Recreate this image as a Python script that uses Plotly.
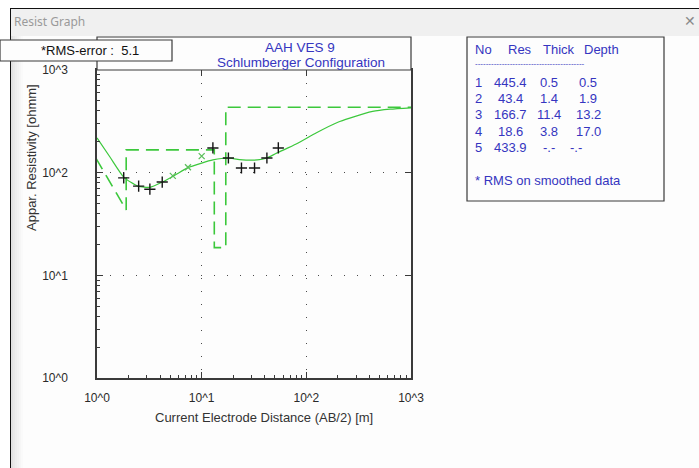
import plotly.graph_objects as go

# ---- inverted layer model -------------------------------------------------
layer_no = [1, 2, 3, 4, 5]
layer_res = [445.4, 43.4, 166.7, 18.6, 433.9]
layer_thick = [0.5, 1.4, 11.4, 3.8, None]
layer_depth = [0.5, 1.9, 13.2, 17.0, None]

# ---- field soundings: AB/2 [m] and apparent resistivity [ohmm] -------------
field_ab2 = [1.8, 2.5, 3.2, 4.2, 12.8, 18.0, 24.0, 32.0, 42.0, 54.0]
field_rho = [89, 74, 69, 81, 174, 139, 111, 111, 139, 174]

# smoothed soundings
smooth_ab2 = [5.3, 7.4, 10.0]
smooth_rho = [93, 113, 145]

# ---- calculated model response ------------------------------------------
curve_ab2 = [1.0, 1.33, 1.81, 2.46, 3.2, 4.2, 5.5, 7.4, 10.0, 12.8, 17.8,
             23.0, 34.0, 42.0, 52.0, 80.0, 125.0, 200.0, 260.0, 430.0,
             630.0, 1000.0]
curve_rho = [218, 142, 90, 74, 72, 81, 94, 112, 124, 133, 139,
             134, 133, 139, 155, 190, 245, 310, 340, 395,
             415, 428]

rms_error = 5.1
sounding_name = "AAH VES 9"
configuration = "Schlumberger Configuration"
x_title = "Current Electrode Distance (AB/2) [m]"
y_title = "Appar. Resistivity [ohmm]"
decades = [1, 10, 100, 1000]
decade_labels = ["10^0", "10^1", "10^2", "10^3"]

# ---- window geometry (pixels) -------------------------------------------
W, H = 699, 468
PL, PR, PT, PB = 97, 411, 70, 378

GREEN = "#3cc83c"
BLUE = "#3535c0"
AXIS = "#3a3a3a"
FONT = "Liberation Sans, Arial, sans-serif"


def fx(x):
    return (x - PL) / (PR - PL)


def fy(y):
    return (PB - y) / (PB - PT)


# step outline of the layer model
x_end = 10 ** 3
model_x = [layer_depth[0], layer_depth[1]]
model_y = [layer_res[0], layer_res[1]]
for i in range(2, len(layer_res)):
    right = layer_depth[i] if layer_depth[i] is not None else x_end
    model_x += [layer_depth[i - 1], right]
    model_y += [layer_res[i], layer_res[i]]

fig = go.Figure()

fig.add_trace(go.Scatter(
    x=model_x, y=model_y, mode="lines",
    line=dict(color=GREEN, width=1.6, dash="13px,7px"),
    hoverinfo="skip"))

fig.add_trace(go.Scatter(
    x=curve_ab2, y=curve_rho, mode="lines",
    line=dict(color=GREEN, width=1.2, shape="spline", smoothing=0.6),
    hoverinfo="skip"))

fig.add_trace(go.Scatter(
    x=smooth_ab2, y=smooth_rho, mode="markers",
    marker=dict(symbol="x-thin", size=6, line=dict(color="#5cbf5c", width=1.3)),
    hoverinfo="skip"))

fig.add_trace(go.Scatter(
    x=field_ab2, y=field_rho, mode="markers",
    marker=dict(symbol="cross-thin", size=8, line=dict(color="#151515", width=1.4)),
    hoverinfo="skip"))

# top / right mirrored major ticks (no minor ticks on those sides)
fig.add_trace(go.Scatter(x=[1, 1000], y=[1, 1000], xaxis="x2", yaxis="y2",
                         mode="none", hoverinfo="skip", showlegend=False))

axis_common = dict(
    type="log", range=[0, 3], tickvals=decades, ticktext=decade_labels,
    ticks="inside", ticklen=6, tickwidth=1, tickcolor=AXIS,
    showline=True, linecolor=AXIS, linewidth=1.5,
    showgrid=True, gridcolor="#4a4a4a", gridwidth=1.3, griddash="1.3px,11.7px",
    zeroline=False, tickfont=dict(family=FONT, size=12, color="#2a2a2a"),
    minor=dict(ticks="inside", ticklen=3, tickcolor=AXIS, dtick="D1", showgrid=False),
)

fig.update_layout(
    width=W, height=H,
    margin=dict(l=PL, r=W - PR, t=PT, b=H - PB, pad=0),
    paper_bgcolor="#fdfdfd", plot_bgcolor="#fdfdfd",
    showlegend=False,
    xaxis=dict(axis_common, ticklabelstandoff=8),
    yaxis=dict(axis_common, ticklabelstandoff=25),
    xaxis2=dict(type="log", range=[0, 3], overlaying="x", side="top",
                tickvals=decades, ticks="inside", ticklen=6, tickcolor=AXIS,
                showticklabels=False, showgrid=False, showline=True,
                linecolor=AXIS, linewidth=1.5, zeroline=False, anchor="y"),
    yaxis2=dict(type="log", range=[0, 3], overlaying="y", side="right",
                tickvals=decades, ticks="inside", ticklen=6, tickcolor=AXIS,
                showticklabels=False, showgrid=False, showline=True,
                linecolor=AXIS, linewidth=1.5, zeroline=False, anchor="x"),
)

shapes = []


def rect(x0, x1, y0, y1, fill, line=None, layer="above"):
    shapes.append(dict(type="rect", xref="paper", yref="paper",
                       x0=fx(x0), x1=fx(x1), y0=fy(y0), y1=fy(y1),
                       fillcolor=fill, layer=layer,
                       line=line if line else dict(width=0)))


def seg(x0, x1, y0, y1, color, width=1):
    shapes.append(dict(type="line", xref="paper", yref="paper",
                       x0=fx(x0), x1=fx(x1), y0=fy(y0), y1=fy(y1),
                       line=dict(color=color, width=width)))


# outside the window
rect(0, W, 0, 8, "white", layer="below")
rect(0, 10, 0, H, "white", layer="below")
# title bar
rect(10, W, 8, 36, "#f0f0f0", layer="below")
# soft shadow along the left edge of the client area
for i, c in enumerate(["#e2e2e2", "#e9e9e9", "#eeeeee", "#f2f2f2", "#f6f6f6", "#fafafa"]):
    rect(11 + 2 * i, 13 + 2 * i, 36, H, c, layer="below")
# window frame
seg(10, W, 8.5, 8.5, "#111111")
seg(10.5, 10.5, 8, H, "#111111")
# title box
rect(97, 411, 37, 70, "#fdfdfd", dict(color=AXIS, width=1.2))
# RMS box
rect(0, 172, 40, 61, "#fdfdfd", dict(color=AXIS, width=1.2))
# layer table box
rect(467, 664, 37, 201, "#fdfdfd", dict(color=AXIS, width=1.2))
fig.update_layout(shapes=shapes)

ann = []


def text(x, y, s, color="#222", size=13, xanchor="center", family=FONT, angle=0):
    ann.append(dict(x=fx(x), y=fy(y), xref="paper", yref="paper", text=s,
                    showarrow=False, xanchor=xanchor, yanchor="middle",
                    textangle=angle, font=dict(family=family, size=size, color=color)))


text(12, 22, "Resist Graph", color="#9a9a9a", size=12, xanchor="left",
     family="Noto Sans, sans-serif")
text(690, 21, "✕", color="#8a8a8a", size=14, family="DejaVu Sans, sans-serif")

text(90, 51, f"*RMS-error :  {rms_error:.1f}", color="#111")
text(300, 47, sounding_name, color=BLUE, size=13.5)
text(301, 62, configuration, color=BLUE, size=13.5)

text(264, 417, x_title, color="#333")
text(31, 158, y_title, color="#333", angle=-90)

# layer table
text(473, 49, "No", color=BLUE, xanchor="left")
text(506, 49, "Res", color=BLUE, xanchor="left")
text(541, 49, "Thick", color=BLUE, xanchor="left")
text(582, 49, "Depth", color=BLUE, xanchor="left")
text(473, 63, "-" * 41, color=BLUE, size=8, xanchor="left")
row_y = [82, 98, 115, 131, 147]
for n, r, t, d, yy in zip(layer_no, layer_res, layer_thick, layer_depth, row_y):
    text(478, yy, str(n), color=BLUE)
    text(510, yy, f"{r:.1f}", color=BLUE)
    text(549, yy, "-.-" if t is None else f"{t:.1f}", color=BLUE)
    text(588 if d is not None else 576, yy, "-.-" if d is None else f"{d:.1f}", color=BLUE)
text(473, 180, "* RMS on smoothed data", color=BLUE, xanchor="left")

fig.update_layout(annotations=ann)

fig.write_html("out.html")
